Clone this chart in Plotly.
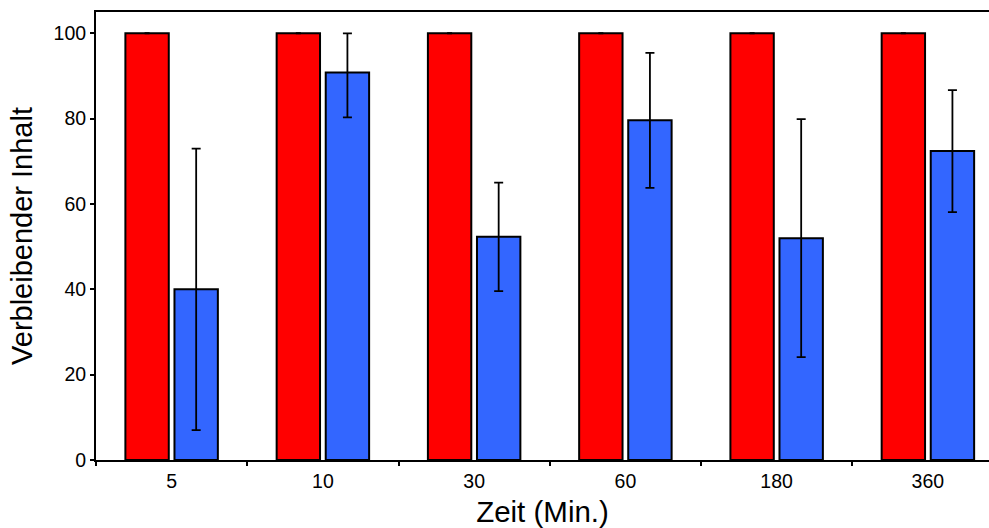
import plotly.graph_objects as go

categories = ["5", "10", "30", "60", "180", "360"]
red_values = [100, 100, 100, 100, 100, 100]
red_err = [0, 0, 0, 0, 0, 0]
blue_values = [40.0, 90.8, 52.3, 79.6, 52.0, 72.4]
blue_err_plus = [33.0, 9.2, 12.7, 15.8, 27.9, 14.3]
blue_err_minus = [33.0, 10.5, 12.7, 15.8, 27.9, 14.3]
y_ticks = [0, 20, 40, 60, 80, 100]

FONT = "Liberation Sans, Arial, sans-serif"

fig = go.Figure()
fig.add_trace(go.Bar(
    x=categories, y=red_values,
    marker=dict(color="#FF0000", line=dict(color="black", width=2)),
    error_y=dict(type="data", array=red_err, visible=True, color="black", thickness=2, width=2.5),
    showlegend=False,
))
fig.add_trace(go.Bar(
    x=categories, y=blue_values,
    marker=dict(color="#3366FF", line=dict(color="black", width=2)),
    error_y=dict(type="data", symmetric=False, array=blue_err_plus, arrayminus=blue_err_minus,
                 visible=True, color="black", thickness=1.8, width=4.5),
    showlegend=False,
))

fig.update_layout(
    width=989, height=528,
    margin=dict(l=96, r=0, t=12, b=68),
    paper_bgcolor="white", plot_bgcolor="white",
    barmode="group", bargap=0.351, bargroupgap=0.116,
    font=dict(family=FONT, color="black"),
)
fig.update_xaxes(
    type="category", range=[-0.5, 5.404],
    showline=True, linecolor="black", linewidth=2, mirror=True,
    ticks="outside", tickson="boundaries", ticklen=4, tickwidth=1.5, tickcolor="black",
    tickfont=dict(size=19.5, family=FONT), ticklabelstandoff=3, showgrid=False, zeroline=False,
    title=dict(text="Zeit (Min.)", font=dict(size=29.5, family=FONT), standoff=10),
    automargin=False,
)
fig.update_yaxes(
    range=[0, 105], tickvals=y_ticks,
    showline=True, linecolor="black", linewidth=2, mirror=True,
    ticks="outside", ticklen=4, tickwidth=1.5, tickcolor="black",
    tickfont=dict(size=19.5, family=FONT), showgrid=False, zeroline=False,
    title=dict(text="Verbleibender Inhalt", font=dict(size=29, family=FONT), standoff=12),
    automargin=False,
)

fig.write_html("out.html")
